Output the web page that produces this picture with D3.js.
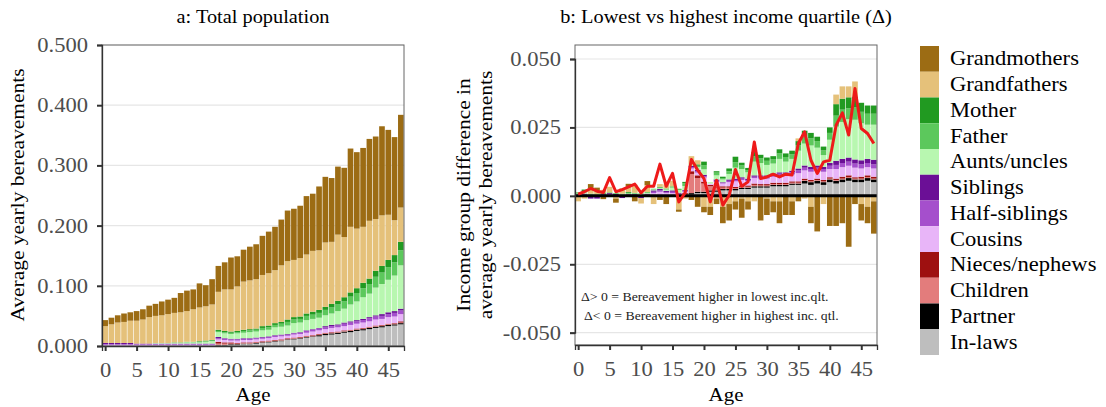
<!DOCTYPE html>
<html>
<head>
<meta charset="utf-8">
<script src="https://cdn.jsdelivr.net/npm/d3@7"></script>
<style>
	body { margin: 0; background: #fff; }
	svg text { font-family: 'Liberation Serif', 'Times New Roman', serif; }
</style>
</head>
<body>
<div id="chart"></div>
<script>

// ages on the x axis
const ages = [0,1,2,3,4,5,6,7,8,9,10,11,12,13,14,15,16,17,18,19,20,21,22,23,24,25,26,27,28,29,30,31,32,33,34,35,36,37,38,39,40,41,42,43,44,45,46,47];

// legend order (top of the stack first)
const categories = ['Grandmothers', 'Grandfathers', 'Mother', 'Father', 'Aunts/uncles', 'Siblings',
	'Half-siblings', 'Cousins', 'Nieces/nephews', 'Children', 'Partner', 'In-laws'];
const colors = ['#9c6c14', '#e5c17a', '#219a21', '#5cc85c', '#b8f7b0', '#6b0f96',
	'#a54fcc', '#e8b5f8', '#9e1010', '#e37c7c', '#000000', '#bebebe'];

const xTicks = [0, 5, 10, 15, 20, 25, 30, 35, 40, 45];
const yTicksA = [0, 0.1, 0.2, 0.3, 0.4, 0.5];
const yTicksB = [-0.05, -0.025, 0, 0.025, 0.05];

// a: total population, average yearly bereavements
const totGrandmothers = [.010,.011,.012,.014,.014,.016,.017,.019,.020,.023,.024,.025,.032,.034,.033,.040,.035,.042,.043,.045,.053,.050,.053,.056,.058,.065,.069,.072,.076,.084,.085,.087,.097,.095,.106,.109,.106,.113,.115,.130,.127,.131,.136,.137,.148,.141,.138,.154];
const totGrandfathers = [.028,.031,.034,.035,.037,.038,.040,.044,.045,.046,.048,.049,.050,.051,.054,.056,.057,.059,.063,.069,.070,.074,.080,.081,.082,.085,.087,.088,.094,.097,.095,.097,.098,.101,.099,.107,.103,.110,.100,.109,.099,.093,.096,.086,.084,.075,.058,.057];
const totMother = [0,0,0,0,0,0,0,0,0,0,0,0,0,0,0,.001,.001,.001,.002,.002,.002,.002,.002,.002,.002,.003,.003,.003,.003,.004,.004,.004,.004,.005,.005,.005,.006,.006,.007,.007,.008,.009,.009,.010,.011,.012,.012,.014];
const totFather = [0,0,0,0,0,0,0,0,0,0,0,.001,.001,.001,.001,.001,.001,.001,.002,.002,.002,.002,.003,.003,.003,.004,.004,.004,.005,.006,.006,.006,.007,.007,.008,.009,.010,.011,.012,.013,.014,.015,.016,.018,.019,.021,.022,.025];
const totAunts = [0,0,0,0,0,0,0,0,.001,.001,.001,.001,.001,.002,.002,.002,.003,.004,.008,.008,.008,.009,.009,.010,.010,.011,.011,.013,.013,.014,.016,.016,.017,.017,.017,.018,.019,.022,.023,.028,.031,.036,.039,.046,.050,.054,.059,.072];
const totSiblings = [.002,.002,.002,.002,.002,.001,.001,.001,.001,.001,.001,.001,.001,.001,.001,.001,.001,.001,.002,.001,.001,.001,.001,.001,.001,.001,.001,.001,.001,.001,.001,.001,.001,.001,.001,.002,.002,.002,.002,.002,.002,.002,.002,.002,.003,.003,.003,.003];
const totHalfSiblings = [.001,.001,.001,.001,.001,.001,.001,.001,.001,.001,.001,.001,.001,.001,.001,.001,.001,.001,.002,.002,.002,.002,.002,.002,.002,.002,.002,.002,.002,.002,.002,.002,.003,.003,.003,.003,.003,.003,.004,.004,.004,.004,.005,.005,.005,.005,.006,.006];
const totCousins = [.002,.002,.002,.002,.002,.002,.002,.002,.002,.002,.002,.002,.002,.002,.002,.002,.002,.002,.004,.004,.003,.004,.004,.004,.004,.004,.004,.005,.005,.004,.005,.005,.005,.006,.006,.006,.007,.007,.007,.008,.008,.009,.009,.010,.010,.011,.011,.012];
const totNieces = [0,0,0,0,0,0,0,0,0,0,0,0,0,0,0,0,0,0,.003,.002,.002,.001,.001,.001,.001,.001,.001,.001,.001,.001,.001,.001,.001,.001,.001,.001,.001,.001,.001,.001,.001,.001,.001,.001,.001,.001,.001,.002];
const totChildren = [0,0,0,0,0,0,0,0,0,0,0,0,0,0,0,0,0,0,.002,.002,.001,.001,.001,.001,.001,.001,.001,.001,.001,.001,.001,.001,.001,.001,.001,.001,.001,.001,.001,.001,.001,.001,.001,.001,.001,.001,.001,.001];
const totPartner = [0,0,0,0,0,0,0,0,0,0,0,0,0,0,0,0,0,0,.001,.001,.001,.001,.001,.001,.001,.001,.001,.001,.001,.001,.001,.001,.001,.001,.002,.002,.002,.002,.002,.002,.002,.002,.002,.002,.002,.002,.002,.002];
const totInLaws = [0,0,0,0,0,0,0,0,0,0,0,0,0,0,0,0,0,0,.001,.001,.002,.002,.003,.003,.004,.005,.006,.007,.008,.010,.011,.012,.014,.015,.016,.018,.019,.020,.022,.023,.025,.026,.028,.030,.031,.033,.034,.036];

// b: lowest minus highest income quartile
const diffGrandmothers = [0,0,.0015,.001,-.0012,0,-.0015,0,.001,-.002,0,.0015,0,-.0015,-.003,0,-.0008,0,-.0015,-.004,-.002,-.003,-.002,-.006,-.006,-.003,-.007,-.003,0,-.009,-.006,-.004,-.008,-.007,-.005,-.002,0,-.006,-.013,0,-.011,-.011,-.010,-.0186,-.003,-.006,-.006,-.0118];
const diffGrandfathers = [-.002,-.001,.002,.0015,.001,.002,-.001,.002,.002,.003,-.002,.0025,-.003,.001,.0015,.002,-.005,-.001,.003,.0015,-.004,-.004,-.001,-.004,-.003,-.002,-.001,-.002,-.002,0,-.001,-.002,-.002,0,-.002,.001,-.001,-.004,0,-.003,0,.0035,.0045,.004,.0055,-.003,-.004,-.002];
const diffMother = [0,.0005,0,0,.0003,0,0,0,.0003,0,0,0,0,.0002,0,0,0,.0005,0,.0005,.0013,0,.0005,.0005,.001,.002,.001,.0008,.0015,.0013,.0012,.0012,.0015,.0013,.0013,.0015,.002,.002,.0016,.0014,.002,.0042,.004,.004,.004,.0033,.003,.003];
const diffFather = [.0005,.0005,.0003,.0003,.0003,.0003,.0003,.0003,.0003,.0003,.0003,.0003,.0003,.0003,.0004,.0005,.0005,.001,0,.0005,.0015,0,.001,.0005,.001,.002,.0013,.0008,.002,.0017,.0015,.0015,.002,.0017,.0017,.002,.0027,.0026,.0024,.0017,.0025,.004,.0045,.004,.0045,.0042,.004,.004];
const diffAunts = [.0003,.0005,.0002,0,0,0,0,.0002,.0002,.0002,.0003,.0003,.0003,.0003,.0005,.001,.001,.0015,.0005,.001,.002,.0005,.0015,.001,.002,.004,.003,.0023,.005,.0045,.0038,.0036,.0049,.0039,.0043,.0065,.008,.0078,.0065,.0043,.0085,.0125,.0135,.014,.0145,.0135,.0125,.0128];
const diffSiblings = [.0002,.0003,-.001,-.001,.0003,.0005,.0004,-.0008,.0003,.0003,-.0008,.0003,.0005,.0005,.0005,.0005,.0003,.0003,.0005,.0005,.0005,0,.0005,.0002,.0005,.0005,.0005,.0005,.0005,.0005,.0005,.0005,.0005,.0005,.0006,.0007,.0008,.0008,.0008,.0008,.001,.0015,.0015,.0015,.0015,.0015,.0015,.0017];
const diffHalfSiblings = [0,.0002,0,0,0,.0002,0,0,0,0,0,.0002,.0005,.0005,.0003,.0005,.0003,.0003,.0005,.0005,.0005,0,.0005,.0003,.0005,.0005,.0005,.0005,.0005,.0007,.0007,.0007,.0008,.0008,.0008,.001,.001,.001,.001,.001,.0012,.0015,.0015,.0015,.0015,.0015,.0015,.0015];
const diffCousins = [.0003,.0003,.0003,.0002,.0003,.0003,.0003,.0003,.0003,.0003,.0003,.0003,.001,.0015,.001,.001,.0005,.0005,.001,.001,.0015,.0005,.0015,.001,.0015,.002,.002,.0015,.002,.002,.002,.0022,.0025,.0025,.0025,.003,.003,.003,.003,.003,.003,.0035,.0035,.0035,.0035,.003,.003,.003];
const diffNieces = [0,0,0,0,0,0,0,0,0,0,0,0,0,0,0,0,0,.0005,.001,.001,.0007,.0005,.0005,.0005,.0005,.0005,.0005,.0005,.0005,.0005,.0005,.0005,.0005,.0005,.0005,.0005,.0005,.0005,.0005,.0005,.0005,.0005,.0007,.0007,.0005,.0007,.0007,.0007];
const diffChildren = [0,0,0,0,0,0,0,0,0,0,0,0,0,0,0,0,0,.0005,.007,.005,.003,.0015,.001,.0005,.0005,.0003,.0003,.0003,.0005,.0003,.0003,.0003,.0003,.0003,.0003,.0003,.0003,.0003,.0003,.0003,.0003,.0003,.0003,.0003,.0003,.0003,.0003,.0003];
const diffPartner = [0,0,0,0,0,0,0,0,0,0,0,0,0,0,0,0,0,0,.0005,.0005,.0005,.0005,.0005,.0005,.0005,.0005,.0005,.0005,.0005,.0005,.0005,.0005,.0005,.0005,.0005,.0005,.001,.001,.001,.001,.001,.001,.001,.001,.001,.001,.001,.001];
const diffInLaws = [0,0,0,0,0,0,0,0,0,0,0,0,0,0,0,0,0,0,.0005,.001,.001,.0015,.0015,.002,.002,.002,.0025,.0025,.003,.003,.003,.0035,.0035,.0035,.004,.004,.0045,.004,.0045,.004,.005,.0045,.005,.0055,.005,.005,.0055,.005];
// red line: total difference
const diffTotal = [.0006,.0015,.0027,.0017,.0012,.0067,.0015,.0023,.0033,.0043,.0011,.0035,.0035,.0116,.0035,.0082,-.0022,.0011,.0133,.0094,.0063,-.0022,.0057,-.0034,.0002,.0096,.0035,.0051,.0197,.0063,.0069,.0079,.0069,.0079,.0076,.0191,.0234,.0130,.0082,.0124,.0130,.0258,.0303,.0222,.0392,.0246,.0228,.0191];

const totSeries = [totGrandmothers, totGrandfathers, totMother, totFather, totAunts, totSiblings,
	totHalfSiblings, totCousins, totNieces, totChildren, totPartner, totInLaws];
const diffSeries = [diffGrandmothers, diffGrandfathers, diffMother, diffFather, diffAunts, diffSiblings,
	diffHalfSiblings, diffCousins, diffNieces, diffChildren, diffPartner, diffInLaws];

// text is drawn a little wider than the default serif
const SX = 1.1;

const svg = d3.select('#chart')
	.append('svg')
		.attr('width', 1106)
		.attr('height', 407);

function buildRows(series) {
	return ages.map(function(a, i) {
		const row = { age: a };
		categories.forEach(function(c, j) { row[c] = series[j][i]; });
		return row;
	});
}

function addText(g, x, y, str, size, opts) {
	opts = opts || {};
	const rot = opts.rotate ? ' rotate(-90)' : '';
	return g.append('text')
		.attr('transform', `translate(${x},${y})${rot} scale(${SX},1)`)
		.attr('text-anchor', opts.anchor || 'middle')
		.attr('font-size', size)
		.attr('fill', opts.fill || '#000')
		.text(str);
}

function drawPanel(p) {

	const x = d3.scaleLinear().domain([-0.5, 47.5]).range([p.left, p.right]);
	const y = d3.scaleLinear().domain(p.yDomain).range(p.yRange);
	const g = svg.append('g');

	// grid
	g.selectAll('line.grid')
		.data(p.yTicks).enter()
		.append('line')
			.attr('x1', p.left).attr('x2', p.right)
			.attr('y1', d => y(d)).attr('y2', d => y(d))
			.attr('stroke', '#e6e6e6')
			.attr('stroke-width', 1.2);

	// stacked bars
	const keys = categories.slice().reverse();
	const stacked = d3.stack()
		.keys(keys)
		.offset(d3.stackOffsetDiverging)(buildRows(p.series));
	const bw = (x(1) - x(0)) * 0.9;

	g.selectAll('g.layer')
		.data(stacked).enter()
		.append('g')
			.attr('fill', d => colors[categories.indexOf(d.key)])
		.selectAll('rect')
		.data(d => d).enter()
		.append('rect')
			.attr('x', d => x(d.data.age) - bw / 2)
			.attr('y', d => y(d[1]))
			.attr('width', bw)
			.attr('height', d => Math.max(0, y(d[0]) - y(d[1])));

	if (p.total) {
		g.append('line')
			.attr('x1', p.left).attr('x2', p.right)
			.attr('y1', y(0)).attr('y2', y(0))
			.attr('stroke', '#000')
			.attr('stroke-width', 3);

		const line = d3.line()
			.x((d, i) => x(ages[i]))
			.y(d => y(d));
		g.append('path')
			.datum(p.total)
			.attr('d', line)
			.attr('fill', 'none')
			.attr('stroke', '#ee1a1a')
			.attr('stroke-width', 3)
			.attr('stroke-linejoin', 'round');
	}

	// border
	g.append('rect')
		.attr('x', p.left).attr('y', p.top)
		.attr('width', p.right - p.left).attr('height', p.bottom - p.top)
		.attr('fill', 'none')
		.attr('stroke', '#666')
		.attr('stroke-width', 1);

	// axes
	const xAxis = g.append('g')
		.attr('transform', `translate(0, ${p.bottom})`)
		.call(d3.axisBottom(x).tickValues(xTicks).tickSize(5).tickPadding(11));
	const yAxis = g.append('g')
		.attr('transform', `translate(${p.left}, 0)`)
		.call(d3.axisLeft(y).tickValues(p.yTicks).tickSize(5).tickPadding(9)
			.tickFormat(d => d.toFixed(3)));

	[xAxis, yAxis].forEach(function(ax) {
		ax.select('.domain').attr('stroke', '#333').attr('stroke-width', 1.3);
		ax.selectAll('.tick line').attr('stroke', '#333').attr('stroke-width', 2);
		ax.selectAll('.tick text')
			.attr('font-size', 20.5)
			.attr('font-family', "'Liberation Serif', serif")
			.attr('fill', '#4d4d4d');
	});
	xAxis.selectAll('.tick text').attr('transform', `scale(${SX},1)`);
	yAxis.selectAll('.tick text')
		.attr('x', -14 / SX)
		.attr('transform', `scale(${SX},1)`);

	addText(g, (p.left + p.right) / 2, 23, p.title, 18.5);
	addText(g, (p.left + p.right) / 2, 401, 'Age', 19);
}

drawPanel({
	left: 102, right: 404, top: 45, bottom: 346,
	yDomain: [0, 0.5], yRange: [346, 45],
	yTicks: yTicksA,
	series: totSeries,
	title: 'a: Total population'
});

drawPanel({
	left: 575, right: 877, top: 45, bottom: 345,
	yDomain: [-0.05, 0.05], yRange: [332.7, 59],
	yTicks: yTicksB,
	series: diffSeries,
	total: diffTotal,
	title: 'b: Lowest vs highest income quartile (\u0394)'
});

// y titles
addText(svg, 24, 195, 'Average yearly bereavements', 19.5, { rotate: true });
addText(svg, 470, 195, 'Income group difference in', 19.5, { rotate: true });
addText(svg, 492, 195, 'average yearly bereavements', 19.5, { rotate: true });

// note inside panel b
addText(svg, 581, 301, '\u0394> 0 = Bereavement higher in lowest inc.qlt.', 12.5, { anchor: 'start', fill: '#222' });
addText(svg, 584, 320, '\u0394< 0 = Bereavement higher in highest inc. qtl.', 12.5, { anchor: 'start', fill: '#222' });

// legend
const legend = svg.append('g');
const keyH = 25.75;
categories.forEach(function(c, i) {
	legend.append('rect')
		.attr('x', 920).attr('y', 46 + i * keyH)
		.attr('width', 19).attr('height', keyH)
		.attr('fill', colors[i]);
	addText(legend, 950, 46 + i * keyH + keyH / 2 + 6.5, c, 20.5, { anchor: 'start' });
});

</script>
</body>
</html>
